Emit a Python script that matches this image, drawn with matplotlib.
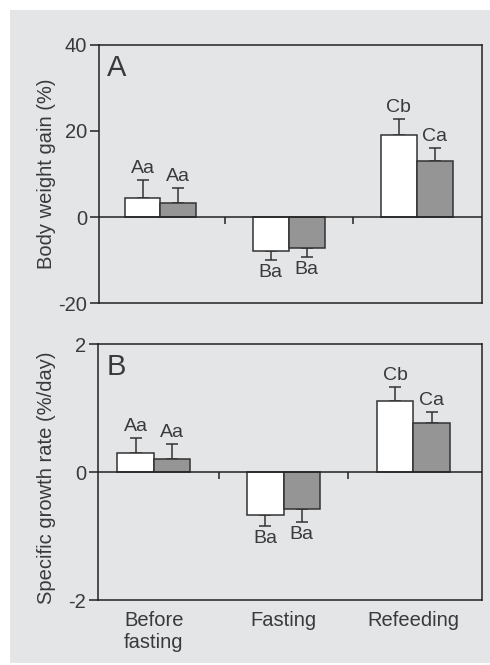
import numpy as np
import matplotlib.pyplot as plt
from matplotlib.patches import Rectangle

plt.rcParams['font.family'] = ['Liberation Sans', 'DejaVu Sans']
plt.rcParams['axes.unicode_minus'] = False

groups = ['Before\nfasting', 'Fasting', 'Refeeding']

# panel A: body weight gain (%)
bwg_white = [4.4, -7.8, 19.0]
bwg_white_err = [4.2, 2.2, 3.7]
bwg_gray = [3.3, -7.2, 13.1]
bwg_gray_err = [3.5, 2.1, 3.0]
bwg_white_lbl = ['Aa', 'Ba', 'Cb']
bwg_gray_lbl = ['Aa', 'Ba', 'Ca']

# panel B: specific growth rate (%/day)
sgr_white = [0.30, -0.67, 1.11]
sgr_white_err = [0.24, 0.17, 0.23]
sgr_gray = [0.20, -0.58, 0.77]
sgr_gray_err = [0.24, 0.20, 0.17]
sgr_white_lbl = ['Aa', 'Ba', 'Cb']
sgr_gray_lbl = ['Aa', 'Ba', 'Ca']

txt = '#3a3a3a'
edge = '#333333'
bg = '#e4e5e7'
fs = 14.5


def panel(ax, white, werr, gray, gerr, wl, gl, ylim, yticks, ylabel, letter, xlim, lblpos, show_x):
    x = np.arange(len(groups))
    w = 0.28
    ax.set_facecolor(bg)
    for xs, vals, errs, col, lbls in [(x - w / 2, white, werr, 'white', wl),
                                     (x + w / 2, gray, gerr, '#959595', gl)]:
        ax.bar(xs, vals, width=w, color=col, edgecolor=edge, linewidth=1.1, zorder=2)
        for xi, v, e, lb in zip(xs, vals, errs, lbls):
            s = 1 if v >= 0 else -1
            yerr = [[0], [e]] if s > 0 else [[e], [0]]
            ax.errorbar([xi], [v], yerr=yerr, fmt='none', ecolor=edge,
                        elinewidth=1.1, capsize=4.6, capthick=1.1, zorder=1)
            off = 2 if s > 0 else -3
            ax.annotate(lb, (xi, v + s * e), xytext=(0, off), textcoords='offset points',
                        ha='center', va='bottom' if s > 0 else 'top',
                        fontsize=14, color=txt)
    ax.axhline(0, color='#222222', linewidth=1.1, zorder=3)
    rng = ylim[1] - ylim[0]
    ax.vlines((x[:-1] + x[1:]) / 2, 0, -0.027 * rng, color='#222222', linewidth=1.1)
    ax.set_xlim(*xlim)
    ax.set_ylim(*ylim)
    ax.set_yticks(yticks)
    ax.tick_params(axis='y', direction='out', length=6.5, width=1.1, colors='#222222',
                   labelcolor=txt, labelsize=fs, pad=2)
    ax.set_xticks(x)
    if show_x:
        ax.set_xticklabels(groups, fontsize=fs, color=txt, linespacing=1.2)
    else:
        ax.set_xticklabels([])
    ax.tick_params(axis='x', length=0, pad=8)
    for sp in ax.spines.values():
        sp.set_linewidth(1.1)
        sp.set_color('#222222')
    ax.set_ylabel(ylabel, fontsize=fs, color=txt)
    ax.yaxis.set_label_coords(*lblpos)
    ax.text(0.022, 0.965, letter, transform=ax.transAxes, fontsize=21,
            color=txt, va='top', ha='left')


fig = plt.figure(figsize=(4.9, 6.65), dpi=100)
fig.patches.append(Rectangle((10 / 490, 2 / 665), 480 / 490, 653 / 665,
                             transform=fig.transFigure, facecolor=bg,
                             edgecolor='none', zorder=-5))

axA = fig.add_axes([0.202, 0.544, 0.782, 0.389])
panel(axA, bwg_white, bwg_white_err, bwg_gray, bwg_gray_err, bwg_white_lbl, bwg_gray_lbl,
      (-20, 40), [-20, 0, 20, 40], 'Body weight gain (%)', 'A', (-0.48, 2.51),
      (-0.113, 0.5), False)

axB = fig.add_axes([0.2, 0.0977, 0.784, 0.3845])
panel(axB, sgr_white, sgr_white_err, sgr_gray, sgr_gray_err, sgr_white_lbl, sgr_gray_lbl,
      (-2, 2), [-2, 0, 2], 'Specific growth rate (%/day)', 'B', (-0.43, 2.53),
      (-0.11, 0.48), True)

fig.savefig('out.png', dpi=100)
